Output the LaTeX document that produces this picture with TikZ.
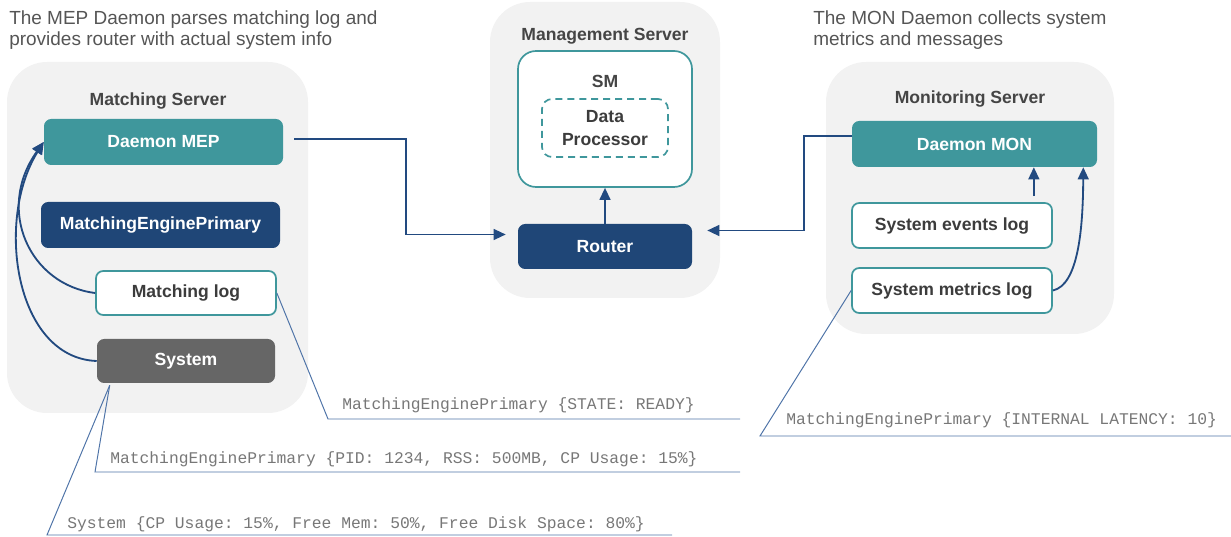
\documentclass[tikz,border=0pt]{standalone}
\usepackage{fontspec}
\setmainfont{Liberation Sans}
\setmonofont{Liberation Mono}
\usetikzlibrary{arrows.meta}

\definecolor{srvgray}{HTML}{F2F2F2}
\definecolor{tealc}{HTML}{3F979C}
\definecolor{dkblue}{HTML}{1F4677}
\definecolor{sysgray}{HTML}{666666}
\definecolor{flowblue}{HTML}{224A80}
\definecolor{noteblue}{HTML}{4F74A8}
\definecolor{ttlgray}{HTML}{454545}
\definecolor{capgray}{HTML}{555555}
\definecolor{boxtxt}{HTML}{3C3C3C}
\definecolor{monotxt}{HTML}{777777}

\newcommand{\capfont}{\fontsize{13.5}{15.6}\selectfont}
\newcommand{\boxfont}{\fontsize{12.5}{16.4}\selectfont\bfseries}
\newcommand{\logfont}{\fontsize{11.6}{13}\selectfont\ttfamily}

\tikzset{
	server/.style 2 args={fill=srvgray, rounded corners=1cm, minimum width=#1*0.025cm, minimum height=#2*0.025cm, inner sep=0pt},
	title/.style={font=\boxfont, text=ttlgray, inner sep=0pt, anchor=base},
	caption/.style={font=\capfont, text=capgray, inner sep=0pt, anchor=north west, align=left},
	box/.style 2 args={rounded corners=0.18cm, minimum width=#1*0.025cm, minimum height=#2*0.025cm, inner sep=0pt, font=\boxfont},
	daemon/.style 2 args={box={#1}{#2}, fill=tealc, text=white},
	engine/.style 2 args={box={#1}{#2}, fill=dkblue, text=white},
	sysbox/.style 2 args={box={#1}{#2}, fill=sysgray, text=white},
	logbox/.style 2 args={box={#1}{#2}, draw=tealc, line width=1.2pt, fill=white, text=boxtxt},
	flow/.style={draw=flowblue, line width=1.3pt, -{Triangle[length=0.3cm, width=0.27cm]}},
	note/.style={draw=noteblue, line width=0.7pt},
	logtxt/.style={font=\logfont, text=monotxt, inner sep=0pt, anchor=base west}
}

\begin{document}
\begin{tikzpicture}[x=0.025cm, y=-0.025cm]
	\useasboundingbox (0,0) rectangle (1231,537);
	
	% servers
	\node[server={301}{351}] (matchSrv) at (157.5,237.5) {};
	\node[server={230}{296}] (mgmtSrv) at (605,150) {};
	\node[server={288}{272}] (monSrv) at (970,198) {};
	\node[title] (matchTtl) at (158,106) {Matching Server};
	\node[title] (mgmtTtl) at (605,41) {Management Server};
	\node[title] (monTtl) at (970,104) {Monitoring Server};
	
	\node[caption] (mepCap) at (9,10) {The MEP Daemon parses matching log and\\provides router with actual system info};
	\node[caption] (monCap) at (813,10) {The MON Daemon collects system\\metrics and messages};
	
	% matching server
	\node[daemon={239}{46}] (mep) at (163.5,142) {Daemon MEP};
	\node[engine={239}{46}] (mepri) at (160.5,225) {MatchingEnginePrimary};
	\node[logbox={180}{44}] (mlog) at (186,293) {Matching log};
	\node[sysbox={178}{44}] (sys) at (186,361) {System};
	
	% management server
	\node[logbox={174}{136}, rounded corners=0.45cm] (sm) at (605,119) {};
	\node[title] (smTtl) at (605,88) {SM};
	\node[box={126}{58}, draw=tealc, line width=1.2pt, dash pattern=on 5pt off 3.5pt, rounded corners=0.25cm, text=boxtxt, align=center] (dp) at (605,128) {Data\\Processor};
	\node[engine={174}{45}] (router) at (605,246.5) {Router};
	
	% monitoring server
	\node[daemon={245}{46}] (mon) at (974.5,144) {Daemon MON};
	\node[logbox={200}{45}] (evt) at (952,225.5) {System events log};
	\node[logbox={200}{45}] (met) at (952,290.5) {System metrics log};
	
	% data flow
	\draw[flow] (mlog.west) .. controls (30,285) and (-5,210) .. (mep.west);
	\draw[flow] (sys.west) .. controls (15,358) and (-5,220) .. (mep.west);
	\draw[flow] (router.north) -- (sm.south);
	
	\coordinate (mepOut) at ([xshift=0.275cm, yshift=0.075cm]mep.east);
	\coordinate (rtrWest) at ([xshift=-0.3cm, yshift=0.3cm]router.west);
	\draw[flow] (mepOut) -- ++(112,0) |- (rtrWest);
	
	\coordinate (monOut) at ([yshift=0.2cm]mon.west);
	\coordinate (rtrEast) at ([xshift=0.375cm, yshift=0.4cm]router.east);
	\draw[flow] (monOut) -- ++(-48,0) |- (rtrEast);
	
	\coordinate (evtUp) at ([xshift=-0.475cm, yshift=0.15cm]evt.north east);
	\draw[flow] (evtUp) -- (evtUp |- mon.south);
	\draw[flow] (met.east) .. controls (1078,285) and (1083,230) .. ([xshift=-0.35cm]mon.south east);
	
	% log lines
	\coordinate (stateKnee) at (328,419);
	\coordinate (stateEnd) at (740,419);
	\draw[note] (mlog.east) -- (stateKnee) -- (stateEnd);
	\node[logtxt] (stateTxt) at (342,410) {MatchingEnginePrimary \{STATE: READY\}};
	
	\coordinate (sysOut) at ([xshift=0.325cm, yshift=-0.05cm]sys.south west);
	\coordinate (pidKnee) at (95,472);
	\coordinate (pidEnd) at (740,472);
	\coordinate (memKnee) at (47,535);
	\coordinate (memEnd) at (672,535);
	\draw[note] (sysOut) -- (pidKnee) -- (pidEnd);
	\draw[note] (sysOut) -- (memKnee) -- (memEnd);
	\node[logtxt] (pidTxt) at (110,463) {MatchingEnginePrimary \{PID: 1234, RSS: 500MB, CP Usage: 15\%\}};
	\node[logtxt] (memTxt) at (67,528) {System \{CP Usage: 15\%, Free Mem: 50\%, Free Disk Space: 80\%\}};
	
	\coordinate (latKnee) at (760,436);
	\coordinate (latEnd) at (1231,436);
	\draw[note] (met.west) -- (latKnee) -- (latEnd);
	\node[logtxt] (latTxt) at (786,425) {MatchingEnginePrimary \{INTERNAL LATENCY: 10\}};
\end{tikzpicture}
\end{document}
